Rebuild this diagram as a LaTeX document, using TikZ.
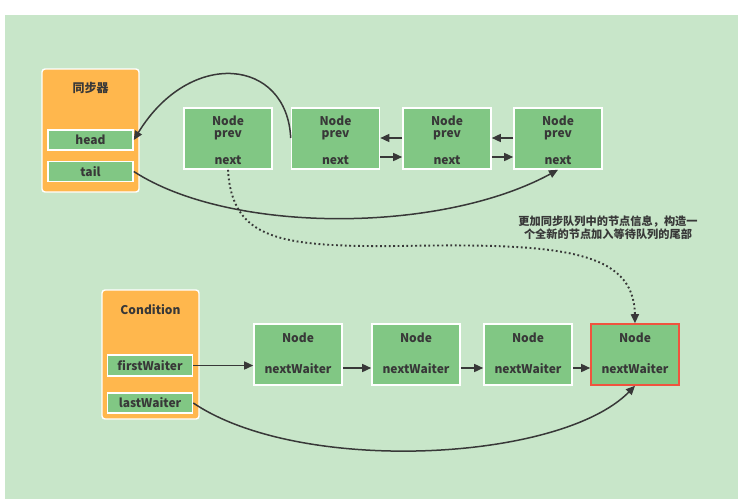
\documentclass[tikz,border=0pt]{standalone}
\usepackage{fontspec}
\setmainfont{Noto Sans CJK SC}
\usetikzlibrary{arrows.meta}
\definecolor{bggreen}{HTML}{C8E6C9}
\definecolor{nodegreen}{HTML}{81C784}
\definecolor{boxorange}{HTML}{FFB74D}
\definecolor{redline}{HTML}{F0533E}
\definecolor{ink}{HTML}{383838}
\tikzset{
  x=1pt,y=-1pt,
  every node/.style={text=ink,font=\fontsize{12}{13.5}\selectfont\bfseries,inner sep=0pt},
  holder/.style={draw=white,line width=1.4pt,fill=boxorange,rounded corners=3pt},
  field/.style={draw=white,line width=1.6pt,fill=nodegreen},
  gnode/.style={draw=white,line width=1.6pt,fill=nodegreen},
  rnode/.style={draw=redline,line width=1.6pt,fill=nodegreen},
  conn/.style={draw=ink,line width=1.5pt,-{Triangle[length=9pt,width=8pt]}},
  dotconn/.style={draw=ink,line width=1.9pt,dash pattern=on 1.8pt off 2.6pt,-{Triangle[length=9pt,width=8pt]}},
}
\begin{document}
\begin{tikzpicture}
\useasboundingbox (0,0) rectangle (743,503);
\fill[white] (0,0) rectangle (743,503);
\fill[bggreen] (5,15) rectangle (738,499);

% synchronizer
\draw[holder] (42,69) rectangle (139,192);
\node (synt) at (90.5,88) {同步器};
\node[field,minimum width=85pt,minimum height=20pt] (head) at (90.5,140) {head};
\node[field,minimum width=85pt,minimum height=20pt] (tail) at (90.5,171.5) {tail};

% sync queue nodes
\foreach \nm/\xc in {n1/228,n2/335.5,n3/447,n4/558}{
  \node[gnode,minimum width=88pt,minimum height=61pt] (\nm) at (\xc,138.5) {};
  \node (\nm a) at (\xc,121) {Node};
  \node (\nm b) at (\xc,135) {prev};
  \node (\nm c) at (\xc,160) {next};
}
\draw[conn] (n3.west |- 0,138) -- (n2.east |- 0,138);
\draw[conn] (n2.east |- 0,157) -- (n3.west |- 0,157);
\draw[conn] (n4.west |- 0,138) -- (n3.east |- 0,138);
\draw[conn] (n3.east |- 0,157) -- (n4.west |- 0,157);

\coordinate (n2in) at (n2.west |- 0,138);
\draw[conn] (n2in) .. controls (287,58) and (190,48) .. (head.east);
\draw[conn] (tail.east) .. controls (230,234) and (440,234) .. (n4.south);

% condition
\draw[holder] (102,290) rectangle (199,419);
\node (condt) at (150.5,310) {Condition};
\node[field,minimum width=85pt,minimum height=21pt] (fw) at (150,365.5) {firstWaiter};
\node[field,minimum width=85pt,minimum height=20pt] (lw) at (150,403) {lastWaiter};

\foreach \nm/\xc in {w1/298,w2/416,w3/528}{
  \node[gnode,minimum width=88pt,minimum height=61pt] (\nm) at (\xc,354.5) {};
  \node (\nm a) at (\xc,338) {Node};
  \node (\nm b) at (\xc,368.5) {nextWaiter};
}
\node[rnode,minimum width=88pt,minimum height=61pt] (w4) at (635,354.5) {};
\node (w4a) at (635,338) {Node};
\node (w4b) at (635,368.5) {nextWaiter};

\draw[conn] (fw.east) -- (w1.west |- fw.east);
\draw[conn] (w1.east |- 0,368) -- (w2.west |- 0,368);
\draw[conn] (w2.east |- 0,368) -- (w3.west |- 0,368);
\draw[conn] (w3.east |- 0,368) -- (w4.west |- 0,368);
\draw[conn] (lw.east) .. controls (300,475) and (560,462) .. (w4.south);

% dotted link
\coordinate (mid) at (400,246);
\draw[dotconn] (n1.south) .. controls (232,240) and (280,247) .. (mid) .. controls (560,243) and (634,250) .. (w4.north);
\node[align=center,font=\fontsize{11.2}{12.5}\selectfont\bfseries] (note) at (608,227.5) {更加同步队列中的节点信息，构造一\\个全新的节点加入等待队列的尾部};
\end{tikzpicture}
\end{document}
